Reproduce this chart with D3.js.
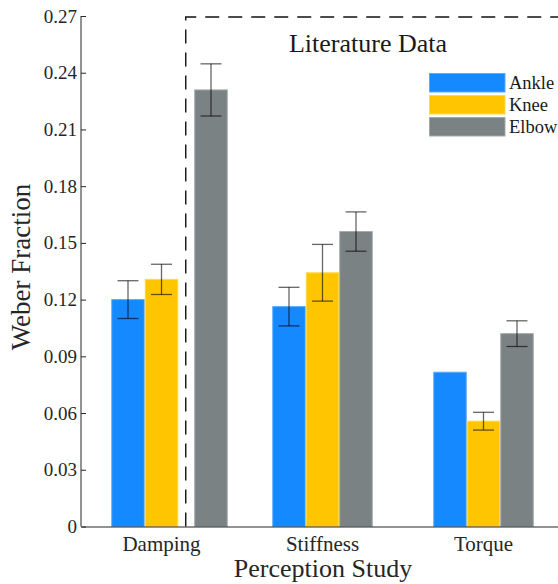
<!DOCTYPE html>
<html>
<head>
<meta charset="utf-8">
<script src="https://cdn.jsdelivr.net/npm/d3@7"></script>
<style>
  body { margin: 0; background: #fff; }
  svg { display: block; font-family: "Liberation Serif", "DejaVu Serif", serif; }
</style>
</head>
<body>
<svg width="558" height="584"></svg>
<script>
// data
var studies = ["Damping", "Stiffness", "Torque"];
var joints = ["Ankle", "Knee", "Elbow"];
var ankle = [0.1200, 0.1163, 0.0816];
var knee = [0.1307, 0.1342, 0.0557];
var elbow = [0.2309, 0.1560, 0.1020];
var ankleErr = [0.0100, 0.0102, null];
var kneeErr = [0.0080, 0.0150, 0.0047];
var elbowErr = [0.0138, 0.0104, 0.0068];
var yTicks = [0, 0.03, 0.06, 0.09, 0.12, 0.15, 0.18, 0.21, 0.24, 0.27];

var colors = { Ankle: "#1589ff", Knee: "#ffc600", Elbow: "#7a8284" };
var edges = { Ankle: "#5aabff", Knee: "#ffd94d", Elbow: "#a3a9ab" };

var svg = d3.select("svg"),
    plotL = 81, plotR = 564, plotT = 16, plotB = 526.5;

var x = d3.scaleBand().domain(studies).range([plotL, plotR]);
var x1 = d3.scaleBand().domain(joints).range([-50.25, 50.25]);
var y = d3.scaleLinear().domain([0, 0.27]).range([plotB, plotT]);

// the literature elbow bar sits right of the dashed box edge
var litGap = 16;

var series = [
  { joint: "Ankle", vals: ankle, errs: ankleErr },
  { joint: "Knee", vals: knee, errs: kneeErr },
  { joint: "Elbow", vals: elbow, errs: elbowErr }
];

var rows = [];
series.forEach(function(s) {
  studies.forEach(function(st, i) {
    rows.push({ joint: s.joint, study: st, v: s.vals[i], e: s.errs[i] });
  });
});

function barX(d) {
  var shift = (d.study == "Damping" && d.joint == "Elbow") ? litGap : 0;
  return x(d.study) + x.bandwidth() / 2 + x1(d.joint) + shift;
}

// bars
svg.append("g")
  .selectAll("rect")
  .data(rows)
  .enter()
  .append("rect")
  .attr("x", function(d) { return barX(d) + 0.5; })
  .attr("width", x1.bandwidth() - 1)
  .attr("y", function(d) { return y(d.v); })
  .attr("height", function(d) { return plotB - y(d.v); })
  .style("fill", function(d) { return colors[d.joint]; })
  .style("stroke", function(d) { return edges[d.joint]; })
  .style("stroke-width", 1);

// error bars
var eb = svg.append("g")
  .style("stroke", "#000")
  .style("stroke-opacity", 0.6)
  .style("stroke-width", 1.3)
  .selectAll("g")
  .data(rows.filter(function(d) { return d.e != null; }))
  .enter()
  .append("g");

eb.append("line")
  .attr("x1", function(d) { return barX(d) + x1.bandwidth() / 2; })
  .attr("x2", function(d) { return barX(d) + x1.bandwidth() / 2; })
  .attr("y1", function(d) { return y(d.v + d.e); })
  .attr("y2", function(d) { return y(d.v - d.e); });

[1, -1].forEach(function(sgn) {
  eb.append("line")
    .attr("x1", function(d) { return barX(d) + x1.bandwidth() / 2 - 10.5; })
    .attr("x2", function(d) { return barX(d) + x1.bandwidth() / 2 + 10.5; })
    .attr("y1", function(d) { return y(d.v + sgn * d.e); })
    .attr("y2", function(d) { return y(d.v + sgn * d.e); });
});

// y axis
var yAxis = svg.append("g")
  .attr("transform", "translate(" + plotL + ",0)")
  .call(d3.axisLeft(y).tickValues(yTicks).tickSize(-5).tickPadding(4)
    .tickFormat(function(d) { return d == 0 ? "0" : d3.format(".2f")(d); }));
yAxis.select(".domain").attr("d", "M0," + plotT + "V" + plotB).style("stroke", "#262626");
yAxis.selectAll(".tick line").style("stroke", "#262626");
yAxis.selectAll("text")
  .style("font-family", "Liberation Serif")
  .style("font-size", "19px")
  .style("fill", "#262626");

// x axis
var xAxis = svg.append("g")
  .attr("transform", "translate(0," + plotB + ")")
  .call(d3.axisBottom(x).tickSize(0).tickPadding(10));
xAxis.select(".domain").style("stroke", "#262626");
xAxis.selectAll("text")
  .style("font-family", "Liberation Serif")
  .style("font-size", "21px")
  .style("fill", "#262626");

// literature box
var boxX = x(studies[0]) + x.bandwidth() / 2 + x1("Elbow") + litGap / 2 - 0.5;
svg.append("path")
  .attr("d", "M" + boxX + "," + plotB + "V" + (plotT + 1) + "H" + 560)
  .style("fill", "none")
  .style("stroke", "#111")
  .style("stroke-width", 1.4)
  .style("stroke-dasharray", "14,9");

svg.append("text")
  .text("Literature Data")
  .attr("x", 368)
  .attr("y", 52)
  .style("text-anchor", "middle")
  .style("font-size", "26px")
  .style("fill", "#1a1a1a");

// legend
var legend = svg.append("g")
  .selectAll("g")
  .data(joints)
  .enter()
  .append("g")
  .attr("transform", function(d, i) { return "translate(429.5," + (73.5 + i * 22) + ")"; });

legend.append("rect")
  .attr("width", 75.5)
  .attr("height", 18.5)
  .style("fill", function(d) { return colors[d]; })
  .style("stroke", function(d) { return edges[d]; });

legend.append("text")
  .text(function(d) { return d; })
  .attr("x", 79.5)
  .attr("y", 15)
  .style("font-size", "18.5px")
  .style("fill", "#1a1a1a");

// axis titles
svg.append("text")
  .text("Perception Study")
  .attr("x", 323)
  .attr("y", 577)
  .style("text-anchor", "middle")
  .style("font-size", "26px")
  .style("fill", "#262626");

svg.append("text")
  .text("Weber Fraction")
  .attr("transform", "translate(30,267) rotate(-90)")
  .style("text-anchor", "middle")
  .style("font-size", "27px")
  .style("fill", "#262626");
</script>
</body>
</html>
